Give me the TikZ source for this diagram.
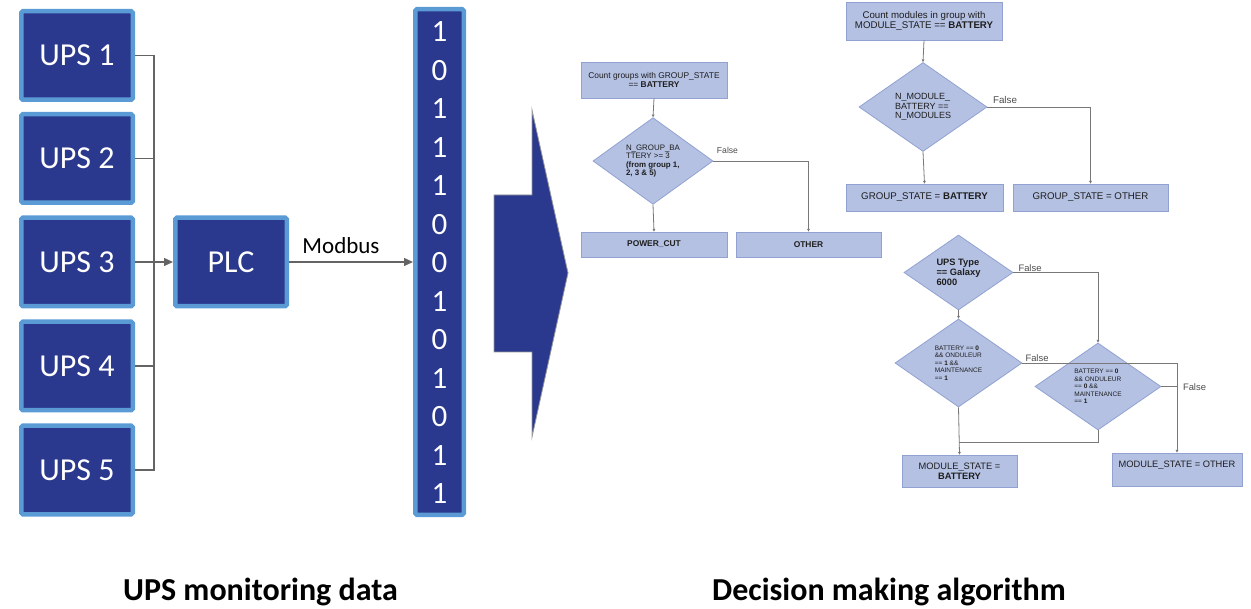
\documentclass[tikz,border=0pt]{standalone}
\usepackage{fontspec}
\usetikzlibrary{shapes.geometric,arrows.meta}
\newfontfamily\carlito{Carlito}
\newfontfamily\arialf{Liberation Sans}
\definecolor{dblue}{RGB}{42,57,141}
\definecolor{lblue}{RGB}{91,155,213}
\definecolor{fcfill}{RGB}{180,193,227}
\definecolor{fcline}{RGB}{145,162,210}
\definecolor{wire}{RGB}{100,100,100}
\definecolor{fcwire}{RGB}{120,120,120}
\definecolor{fctext}{RGB}{30,30,30}
\tikzset{
  upsbox/.style={draw=lblue, line width=4.5pt, fill=dblue, text=white,
    font=\carlito\fontsize{32}{32}\selectfont, minimum width=111.5pt,
    minimum height=88.5pt, inner sep=0pt, rounded corners=1.5pt},
  bitcol/.style={draw=lblue, line width=4.5pt, fill=dblue,
    minimum width=48.5pt, minimum height=505.5pt, inner sep=0pt, rounded corners=1.5pt},
  bit/.style={text=white, font=\carlito\fontsize{31}{31}\selectfont, inner sep=0pt},
  wireline/.style={draw=wire, line width=1.3pt},
  wirearrow/.style={wireline, -{Triangle[length=9pt,width=8pt]}},
  fcbox/.style={draw=fcline, line width=0.8pt, fill=fcfill, text=fctext,
    inner sep=0pt, align=center},
  fcdia/.style={draw=fcline, line width=0.8pt, fill=fcfill, text=fctext,
    shape=diamond, inner sep=0pt, align=left},
  fcl/.style={draw=fcwire, line width=0.8pt},
  fca/.style={fcl, -{Triangle[length=2.6pt,width=2.6pt]}},
  falselbl/.style={text=fctext!80, inner sep=0pt},
  title/.style={font=\carlito\bfseries\fontsize{32}{32}\selectfont, inner sep=0pt}
}
\begin{document}
\begin{tikzpicture}[x=1pt,y=-1pt]
\useasboundingbox (0,0) rectangle (1251,609);

% ---------- data acquisition ----------
\node[upsbox] (u1) at (77,55.5) {UPS 1};
\node[upsbox] (u2) at (77,158.5) {UPS 2};
\node[upsbox] (u3) at (77,262) {UPS 3};
\node[upsbox] (u4) at (77,366) {UPS 4};
\node[upsbox] (u5) at (77,470) {UPS 5};
\node[upsbox] (plc) at (231,262) {PLC};

\coordinate (bustop) at (154,55.5);
\coordinate (busbot) at (154,470);
\draw[wireline] (u1.east) -- (bustop) -- (busbot) -- (u5.east);
\draw[wireline] (u2.east) -- (u2.east -| bustop);
\draw[wireline] (u4.east) -- (u4.east -| bustop);
\draw[wirearrow] (u3.east) -- (plc.west);

% register column
\node[bitcol] (bits) at (439.5,262) {};
\foreach \b [count=\i from 0] in {1,0,1,1,1,0,0,1,0,1,0,1,1}
  \node[bit] (b\i) at (439.5,32+38.5*\i) {\b};

\draw[wirearrow] (plc.east) -- (bits.west);
\node[font=\carlito\fontsize{23}{23}\selectfont, inner sep=0pt] (modbus) at (341,246) {Modbus};

% big block arrow
\draw[fill=dblue, draw=gray!80, line width=0.8pt]
  (494,195) -- (532,195) -- (532,110) -- (568,273) -- (532,437) -- (532,352) -- (494,352) -- cycle;

% ---------- group decision ----------
\begin{scope}[font=\arialf\fontsize{8.4}{9.3}\selectfont]
\node[fcbox, minimum width=146pt, minimum height=36pt] (g1) at (654,80)
  {Count groups with GROUP\_STATE\\== \textbf{BATTERY}};
\node[fcdia, minimum width=120pt, minimum height=83pt,
  font=\arialf\fontsize{7.9}{8.5}\selectfont] (g2) at (653,161)
  {N\_GROUP\_BA\\TTERY >= 3\\\textbf{(from group 1,}\\\textbf{2, 3 \& 5)}};
\node[fcbox, minimum width=146pt, minimum height=25pt] (g3) at (654,244.5) {\textbf{POWER\_CUT}};
\node[fcbox, minimum width=145pt, minimum height=25pt] (g4) at (808.5,244.5) {\textbf{OTHER}};
\end{scope}
\draw[fca] (g1.south) -- (g2.north);
\draw[fca] (g2.south) -- (g3.north);
\draw[fca] (g2.east) -| (g4.north);
\node[falselbl, font=\arialf\fontsize{8.6}{9}\selectfont] (gf) at (727.5,150) {False};

% ---------- module group decision ----------
\begin{scope}[font=\arialf\fontsize{9.7}{10.6}\selectfont]
\node[fcbox, minimum width=156pt, minimum height=38pt] (m1) at (924,21)
  {Count modules in group with\\MODULE\_STATE == \textbf{BATTERY}};
\node[fcdia, minimum width=128pt, minimum height=89pt,
  font=\arialf\fontsize{9}{9.4}\selectfont] (m2) at (923,107)
  {N\_MODULE\_\\BATTERY ==\\N\_MODULES};
\node[fcbox, minimum width=157pt, minimum height=27pt] (m3) at (924.5,197.5)
  {GROUP\_STATE = \textbf{BATTERY}};
\node[fcbox, minimum width=155pt, minimum height=27pt] (m4) at (1090.5,197.5)
  {GROUP\_STATE = OTHER};
\end{scope}
\draw[fca] (m1.south) -- (m2.north);
\draw[fca] (m2.south) -- (m3.north);
\draw[fca] (m2.east) -| (m4.north);
\node[falselbl, font=\arialf\fontsize{9.8}{10}\selectfont] (mf) at (1005,100) {False};

% ---------- module state decision ----------
\begin{scope}[font=\arialf\fontsize{9.3}{10.3}\selectfont]
\node[fcdia, minimum width=109pt, minimum height=75pt,
  font=\arialf\bfseries\fontsize{9.3}{10.3}\selectfont] (s1) at (958.5,272.5)
  {UPS Type\\== Galaxy\\6000};
\node[fcdia, minimum width=127pt, minimum height=88pt,
  font=\arialf\fontsize{6.5}{7.6}\selectfont] (s2) at (958.5,363)
  {BATTERY == \textbf{0}\\\&\& ONDULEUR\\== \textbf{1} \&\&\\MAINTENANCE\\== \textbf{1}};
\node[fcdia, minimum width=126pt, minimum height=87pt,
  font=\arialf\fontsize{6.5}{7.6}\selectfont] (s3) at (1098,386.5)
  {BATTERY == \textbf{0}\\\&\& ONDULEUR\\== \textbf{0} \&\&\\MAINTENANCE\\== \textbf{1}};
\node[fcbox, minimum width=115pt, minimum height=32pt] (s4) at (959.5,471)
  {MODULE\_STATE =\\\textbf{BATTERY}};
\node[fcbox, minimum width=130pt, minimum height=33pt] (s5) at (1177,469.5)
  {\raisebox{2.1pt}[0pt][0pt]{MODULE\_STATE = OTHER}};
\end{scope}
\coordinate (join) at (958.5,442);
\draw[fca] (s1.south) -- (s2.north);
\draw[fca] (s1.east) -| (s3.north);
\draw[fca] (s2.east) -| (s5.north);
\draw[fcl] (s3.east) -- (s3.east -| s5.north);
\draw[fca] (s2.south) -- (s4.north);
\draw[fcl] (s3.south) |- (join);
\node[falselbl, font=\arialf\fontsize{9.4}{10}\selectfont] (sf1) at (1030,268) {False};
\node[falselbl, font=\arialf\fontsize{9.4}{10}\selectfont] (sf2) at (1037,358) {False};
\node[falselbl, font=\arialf\fontsize{9.4}{10}\selectfont] (sf3) at (1194.5,387) {False};

% ---------- captions ----------
\node[title, anchor=base] (t1) at (260.5,600) {UPS monitoring data};
\node[title, anchor=base] (t2) at (889,600) {Decision making algorithm};
\end{tikzpicture}
\end{document}
